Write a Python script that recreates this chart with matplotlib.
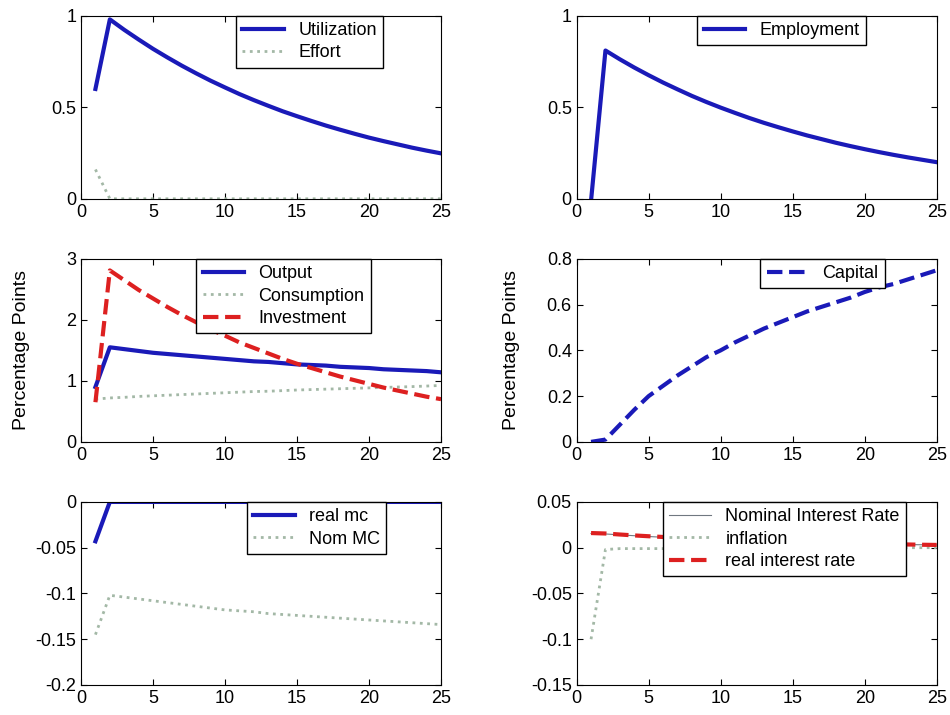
import matplotlib
matplotlib.use('Agg')
import matplotlib.pyplot as plt
from matplotlib.ticker import FormatStrFormatter

plt.rcParams['font.family'] = ['Liberation Sans', 'DejaVu Sans']
plt.rcParams['axes.unicode_minus'] = False

# horizon, quarters 1..25
t = list(range(1, 26))

utilization = [0.60, 0.98, 0.923, 0.870, 0.819, 0.772, 0.727, 0.685, 0.645, 0.608,
               0.572, 0.539, 0.508, 0.478, 0.451, 0.425, 0.400, 0.377, 0.355, 0.334,
               0.315, 0.297, 0.279, 0.263, 0.248]
effort = [0.16, 0.0, 0.0, 0.0, 0.0, 0.0, 0.0, 0.0, 0.0, 0.0, 0.0, 0.0, 0.0, 0.0, 0.0,
          0.0, 0.0, 0.0, 0.0, 0.0, 0.0, 0.0, 0.0, 0.0, 0.0]

employment = [-0.01, 0.81, 0.762, 0.717, 0.675, 0.635, 0.598, 0.562, 0.529, 0.498,
              0.469, 0.441, 0.415, 0.391, 0.368, 0.346, 0.326, 0.306, 0.288, 0.271,
              0.255, 0.240, 0.226, 0.213, 0.200]

output = [0.90, 1.55, 1.52, 1.49, 1.46, 1.44, 1.42, 1.40, 1.38, 1.36, 1.34, 1.32, 1.31,
          1.29, 1.27, 1.26, 1.25, 1.23, 1.22, 1.21, 1.19, 1.18, 1.17, 1.16, 1.14]
consumption = [0.70, 0.72, 0.73, 0.745, 0.755, 0.765, 0.775, 0.785, 0.795, 0.805, 0.815,
               0.825, 0.83, 0.84, 0.85, 0.857, 0.864, 0.871, 0.878, 0.885, 0.892, 0.899,
               0.906, 0.915, 0.925]
investment = [0.65, 2.81, 2.65, 2.49, 2.35, 2.21, 2.08, 1.96, 1.84, 1.74, 1.63, 1.54, 1.45,
              1.36, 1.28, 1.21, 1.14, 1.07, 1.01, 0.95, 0.89, 0.84, 0.79, 0.74, 0.70]

capital = [0.0, 0.01, 0.075, 0.14, 0.20, 0.245, 0.29, 0.33, 0.37, 0.40, 0.435, 0.465,
           0.495, 0.52, 0.545, 0.57, 0.59, 0.61, 0.63, 0.655, 0.675, 0.69, 0.71, 0.73, 0.75]

real_mc = [-0.043, 0.0, 0.0, 0.0, 0.0, 0.0, 0.0, 0.0, 0.0, 0.0, 0.0, 0.0, 0.0, 0.0, 0.0,
           0.0, 0.0, 0.0, 0.0, 0.0, 0.0, 0.0, 0.0, 0.0, 0.0]
nom_mc = [-0.145, -0.102, -0.104, -0.106, -0.108, -0.110, -0.112, -0.114, -0.116, -0.118,
          -0.119, -0.120, -0.122, -0.123, -0.124, -0.125, -0.126, -0.127, -0.128, -0.129,
          -0.130, -0.131, -0.132, -0.133, -0.134]

nominal_rate = [0.0155, 0.0150, 0.0140, 0.0131, 0.0122, 0.0114, 0.0106, 0.0099, 0.0092,
                0.0086, 0.0080, 0.0075, 0.0070, 0.0065, 0.0060, 0.0056, 0.0052, 0.0049,
                0.0045, 0.0042, 0.0039, 0.0037, 0.0034, 0.0032, 0.0030]
inflation = [-0.100, -0.002, -0.001, -0.001, -0.001, -0.001, -0.001, -0.001, -0.001,
             -0.001, -0.001, -0.001, 0.0, 0.0, 0.0, 0.0, 0.0, 0.0, 0.0, 0.0, 0.0, 0.0,
             0.0, 0.0, 0.0]
real_rate = [0.016, 0.0155, 0.0144, 0.0134, 0.0125, 0.0117, 0.0109, 0.0101, 0.0094,
             0.0088, 0.0082, 0.0076, 0.0071, 0.0066, 0.0061, 0.0057, 0.0053, 0.0050,
             0.0046, 0.0043, 0.0040, 0.0037, 0.0035, 0.0032, 0.0030]

BLUE = '#1a1ab8'
GREY = '#a3b8a6'
RED = '#dd2020'
FS = 13

fig = plt.figure(figsize=(9.5, 7.15), dpi=100)
lefts = [0.0853, 0.607]
bottoms = [0.722, 0.382, 0.042]
w, h = 0.379, 0.256

axes = [[fig.add_axes([l, b, w, h]) for l in lefts] for b in bottoms]


def style(ax, ylim, yticks, fmt):
    ax.set_xlim(0, 25)
    ax.set_ylim(*ylim)
    ax.set_xticks([0, 5, 10, 15, 20, 25])
    ax.set_yticks(yticks)
    ax.yaxis.set_major_formatter(FormatStrFormatter(fmt))
    ax.tick_params(direction='in', top=True, right=True, labelsize=FS, length=4)
    for s in ax.spines.values():
        s.set_linewidth(0.8)


def leg(ax, x0):
    ax.legend(loc='upper left', bbox_to_anchor=(x0, 1.0), fontsize=FS, fancybox=False,
              edgecolor='black', framealpha=1, handlelength=2.3, borderaxespad=0,
              labelspacing=0.3, borderpad=0.35)


ax = axes[0][0]
ax.plot(t, utilization, color=BLUE, lw=3, label='Utilization')
ax.plot(t, effort, color=GREY, lw=2, ls=':', label='Effort')
style(ax, (0, 1), [0, 0.5, 1], '%g')
leg(ax, 0.43)

ax = axes[0][1]
ax.plot(t, employment, color=BLUE, lw=3, label='Employment')
style(ax, (0, 1), [0, 0.5, 1], '%g')
leg(ax, 0.335)

ax = axes[1][0]
ax.plot(t, output, color=BLUE, lw=3, label='Output')
ax.plot(t, consumption, color=GREY, lw=2, ls=':', label='Consumption')
ax.plot(t, investment, color=RED, lw=3, ls='--', label='Investment')
style(ax, (0, 3), [0, 1, 2, 3], '%g')
ax.set_ylabel('Percentage Points', fontsize=14)
ax.yaxis.set_label_coords(-0.141, 0.5)
leg(ax, 0.32)

ax = axes[1][1]
ax.plot(t, capital, color=BLUE, lw=3, ls='--', label='Capital')
style(ax, (0, 0.8), [0, 0.2, 0.4, 0.6, 0.8], '%g')
ax.set_ylabel('Percentage Points', fontsize=14)
ax.yaxis.set_label_coords(-0.156, 0.5)
leg(ax, 0.51)

ax = axes[2][0]
ax.plot(t, real_mc, color=BLUE, lw=3, label='real mc')
ax.plot(t, nom_mc, color=GREY, lw=2, ls=':', label='Nom MC')
style(ax, (-0.2, 0), [-0.2, -0.15, -0.1, -0.05, 0], '%g')
leg(ax, 0.46)

ax = axes[2][1]
ax.plot(t, nominal_rate, color='#707880', lw=0.8, label='Nominal Interest Rate')
ax.plot(t, inflation, color=GREY, lw=2, ls=':', label='inflation')
ax.plot(t, real_rate, color=RED, lw=3, ls='--', label='real interest rate')
style(ax, (-0.15, 0.05), [-0.15, -0.1, -0.05, 0, 0.05], '%g')
leg(ax, 0.24)

fig.savefig('out.png', dpi=100)
